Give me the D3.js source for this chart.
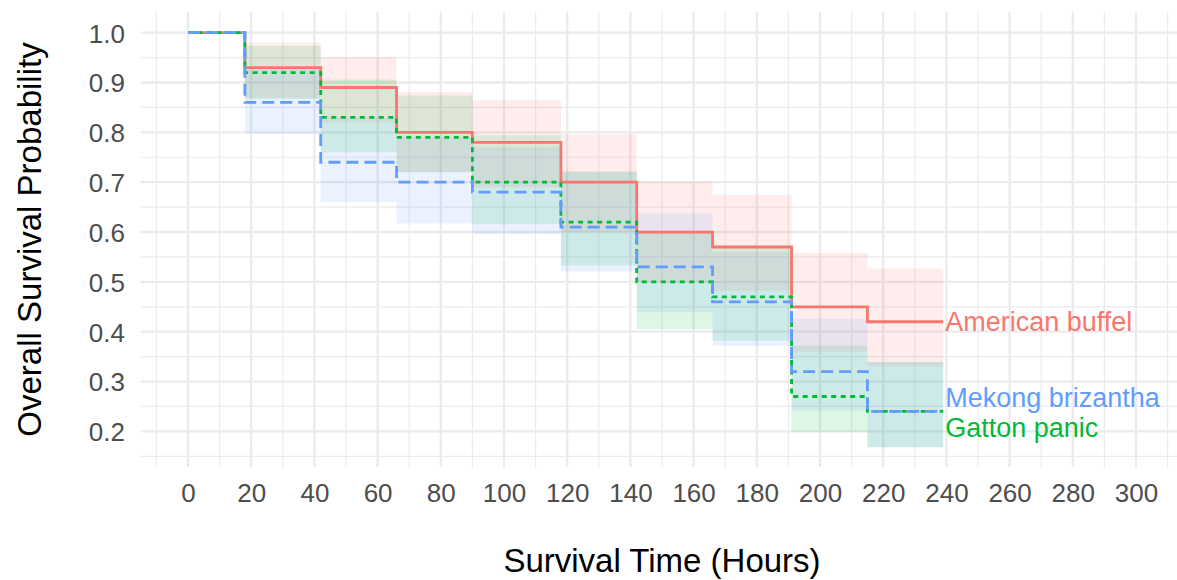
<!DOCTYPE html>
<html>
<head>
<meta charset="utf-8">
<script src="https://cdn.jsdelivr.net/npm/d3@7"></script>
<style>
  html, body { margin: 0; padding: 0; background: #fff; }
  svg { display: block; font-family: "Liberation Sans", Arial, Helvetica, sans-serif; }
</style>
</head>
<body>
<div id="km-plot"></div>
<script>
// step start times (hours); the last entry closes the final step
const times = [0, 18, 42, 66, 90, 118, 142, 166, 191, 215, 239];

const buffelSurv = [1, 0.93, 0.89, 0.8, 0.78, 0.7, 0.6, 0.57, 0.45, 0.42, 0.42];
const buffelUpper = [1, 0.98, 0.951, 0.881, 0.865, 0.796, 0.702, 0.675, 0.558, 0.527, 0.527];
const buffelLower = [1, 0.87, 0.82, 0.72, 0.69, 0.6, 0.5, 0.482, 0.36, 0.33, 0.33];

const gattonSurv = [1, 0.92, 0.83, 0.79, 0.7, 0.62, 0.5, 0.47, 0.27, 0.24, 0.24];
const gattonUpper = [1, 0.974, 0.906, 0.874, 0.794, 0.722, 0.6, 0.57, 0.372, 0.339, 0.339];
const gattonLower = [1, 0.867, 0.76, 0.72, 0.616, 0.533, 0.405, 0.382, 0.198, 0.168, 0.168];

const mekongSurv = [1, 0.86, 0.74, 0.7, 0.68, 0.61, 0.53, 0.46, 0.32, 0.24, 0.24];
const mekongUpper = [1, 0.93, 0.83, 0.79, 0.77, 0.72, 0.637, 0.56, 0.426, 0.339, 0.339];
const mekongLower = [1, 0.797, 0.66, 0.617, 0.596, 0.521, 0.439, 0.372, 0.242, 0.168, 0.168];

const groupNames = ["American buffel", "Gatton panic", "Mekong brizantha"];
// end labels are nudged apart, so they sit at their own probability
const labelValues = [0.42, 0.208, 0.268];

const xTicks = d3.range(0, 301, 20);
const xMinorTicks = d3.range(-10, 311, 20);
const yTicks = [0.2, 0.3, 0.4, 0.5, 0.6, 0.7, 0.8, 0.9, 1.0];
const yMinorTicks = [0.15, 0.25, 0.35, 0.45, 0.55, 0.65, 0.75, 0.85, 0.95];

const KM_OPTIONS = {
  width: 1177,
  height: 580,
  panelLeft: 140.6,
  panelRight: 1183.4,
  panelTop: 12,
  panelBottom: 467,
  ribbonOpacity: 0.13,
  lineWidth: 2.8,
  tickFont: 26,
  titleFont: 33,
  labelFont: 27,
};

const colors = ["#F8766D", "#00BA38", "#619CFF"];
const dashes = [null, "5,4.5", "12,6"];

const series = [
  { surv: buffelSurv, upper: buffelUpper, lower: buffelLower },
  { surv: gattonSurv, upper: gattonUpper, lower: gattonLower },
  { surv: mekongSurv, upper: mekongUpper, lower: mekongLower },
].map((s, i) => ({
  name: groupNames[i],
  color: colors[i],
  dash: dashes[i],
  labelValue: labelValues[i],
  points: times.map((t, j) => ({ t: t, s: s.surv[j], hi: s.upper[j], lo: s.lower[j] })),
}));

const o = KM_OPTIONS;

const x = d3.scaleLinear().domain([-15, 315]).range([o.panelLeft, o.panelRight]);
const y = d3.scaleLinear().domain([0.1285, 1.0415]).range([o.panelBottom, o.panelTop]);

const svg = d3
  .select("#km-plot")
  .append("svg")
  .attr("width", o.width)
  .attr("height", o.height);

svg
  .append("defs")
  .append("clipPath")
  .attr("id", "panel-clip")
  .append("rect")
  .attr("x", o.panelLeft)
  .attr("y", o.panelTop)
  .attr("width", o.panelRight - o.panelLeft)
  .attr("height", o.panelBottom - o.panelTop);

const grid = svg.append("g").attr("clip-path", "url(#panel-clip)");

// minor grid first, major on top
grid
  .selectAll("line.xminor")
  .data(xMinorTicks)
  .enter()
  .append("line")
  .attr("x1", (d) => x(d))
  .attr("x2", (d) => x(d))
  .attr("y1", o.panelTop)
  .attr("y2", o.panelBottom)
  .attr("stroke", "#EBEBEB")
  .attr("stroke-width", 1.2);

grid
  .selectAll("line.yminor")
  .data(yMinorTicks)
  .enter()
  .append("line")
  .attr("x1", o.panelLeft)
  .attr("x2", o.panelRight)
  .attr("y1", (d) => y(d))
  .attr("y2", (d) => y(d))
  .attr("stroke", "#EBEBEB")
  .attr("stroke-width", 1.2);

grid
  .selectAll("line.xmajor")
  .data(xTicks)
  .enter()
  .append("line")
  .attr("x1", (d) => x(d))
  .attr("x2", (d) => x(d))
  .attr("y1", o.panelTop)
  .attr("y2", o.panelBottom)
  .attr("stroke", "#EBEBEB")
  .attr("stroke-width", 2.3);

grid
  .selectAll("line.ymajor")
  .data(yTicks)
  .enter()
  .append("line")
  .attr("x1", o.panelLeft)
  .attr("x2", o.panelRight)
  .attr("y1", (d) => y(d))
  .attr("y2", (d) => y(d))
  .attr("stroke", "#EBEBEB")
  .attr("stroke-width", 2.3);

const plot = svg.append("g").attr("clip-path", "url(#panel-clip)");

const ribbon = d3
  .area()
  .curve(d3.curveStepAfter)
  .x((d) => x(d.t))
  .y0((d) => y(d.lo))
  .y1((d) => y(d.hi));

const step = d3
  .line()
  .curve(d3.curveStepAfter)
  .x((d) => x(d.t))
  .y((d) => y(d.s));

plot
  .append("g")
  .selectAll("path")
  .data(series)
  .enter()
  .append("path")
  .attr("d", (d) => ribbon(d.points))
  .attr("fill", (d) => d.color)
  .attr("fill-opacity", o.ribbonOpacity);

plot
  .append("g")
  .selectAll("path")
  .data(series)
  .enter()
  .append("path")
  .attr("d", (d) => step(d.points))
  .attr("fill", "none")
  .attr("stroke", (d) => d.color)
  .attr("stroke-width", o.lineWidth)
  .attr("stroke-dasharray", (d) => d.dash);

// group labels at the end of each curve
svg
  .append("g")
  .selectAll("text")
  .data(series)
  .enter()
  .append("text")
  .attr("x", (d) => x(d.points[d.points.length - 1].t) + 2)
  .attr("y", (d) => y(d.labelValue))
  .attr("dy", "0.36em")
  .attr("fill", (d) => d.color)
  .style("font-size", o.labelFont + "px")
  .text((d) => d.name);

// axes: labels only, no lines or ticks
const xAxis = d3.axisBottom(x).tickValues(xTicks).tickSize(0).tickPadding(0);
const gx = svg
  .append("g")
  .attr("transform", "translate(0," + (o.panelBottom + 34.5) + ")")
  .call(xAxis);
gx.select(".domain").remove();
gx.selectAll("text")
  .attr("y", 0)
  .attr("dy", 0)
  .attr("fill", "#4D4D4D")
  .style("font-size", o.tickFont + "px")
  .style("font-family", "inherit");

const yAxis = d3
  .axisLeft(y)
  .tickValues(yTicks)
  .tickSize(0)
  .tickPadding(0)
  .tickFormat(d3.format(".1f"));
const gy = svg.append("g").attr("transform", "translate(125,0)").call(yAxis);
gy.select(".domain").remove();
gy.selectAll("text")
  .attr("x", 0)
  .attr("dy", "0.36em")
  .attr("fill", "#4D4D4D")
  .style("font-size", o.tickFont + "px")
  .style("font-family", "inherit");

svg
  .append("text")
  .attr("x", (o.panelLeft + o.panelRight) / 2)
  .attr("y", 572)
  .attr("text-anchor", "middle")
  .attr("fill", "#000")
  .style("font-size", o.titleFont + "px")
  .text("Survival Time (Hours)");

svg
  .append("text")
  .attr("transform", "translate(41," + (o.panelTop + o.panelBottom) / 2 + ") rotate(-90)")
  .attr("text-anchor", "middle")
  .attr("fill", "#000")
  .style("font-size", o.titleFont + "px")
  .text("Overall Survival Probability");
</script>
</body>
</html>
